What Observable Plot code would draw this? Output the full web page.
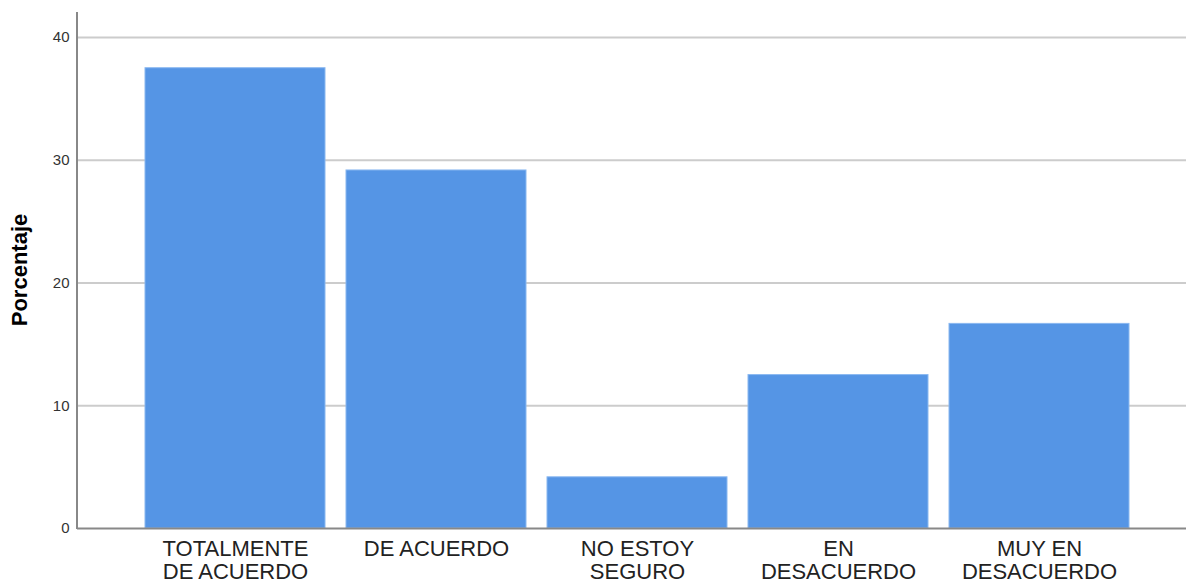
<!DOCTYPE html>
<html>
<head>
<meta charset="utf-8">
<script src="https://cdn.jsdelivr.net/npm/d3@7"></script>
<script src="https://cdn.jsdelivr.net/npm/@observablehq/plot@0.6"></script>
<style>
  html, body { margin: 0; padding: 0; background: #fff; }
  #chart { width: 1186px; height: 583px; overflow: hidden; }
</style>
</head>
<body>
<div id="chart"></div>
<script>
const categories = ["TOTALMENTE\nDE ACUERDO", "DE ACUERDO", "NO ESTOY\nSEGURO", "EN\nDESACUERDO", "MUY EN\nDESACUERDO"];
const percentages = [37.5, 29.17, 4.17, 12.5, 16.67];
const yTicks = [0, 10, 20, 30, 40];
const yLabel = "Porcentaje";

const data = categories.map((c, i) => ({cat: c, pct: percentages[i]}));

const chart = Plot.plot({
  width: 1186,
  height: 583,
  marginLeft: 77,
  marginRight: 0,
  marginTop: 12,
  marginBottom: 55,
  style: {fontFamily: "Liberation Sans, Arial, sans-serif", background: "#fff"},
  x: {domain: categories, range: [77, 1197], paddingInner: 0.106, paddingOuter: 0.335, label: null, axis: null},
  y: {domain: [0, 42.04], label: null, axis: null},
  marks: [
    Plot.ruleY(yTicks.filter(d => d > 0), {stroke: "#cccccc", strokeWidth: 2}),
    Plot.barY(data, {x: "cat", y: "pct", fill: "#5595e5", stroke: "#8ab8f0", strokeWidth: 1}),
    Plot.ruleY([0], {stroke: "#888888", strokeWidth: 2}),
    Plot.axisY({ticks: yTicks, tickSize: 0, tickPadding: 8, fontSize: 15, fill: "#333", label: null}),
    Plot.axisX({tickSize: 0, tickPadding: 11, fontSize: 22, fill: "#222", label: null, lineHeight: 1.05})
  ]
});

const svg = d3.select(chart);
svg.append("line")
  .attr("x1", 77).attr("x2", 77)
  .attr("y1", 12).attr("y2", 529)
  .attr("stroke", "#888").attr("stroke-width", 2);
svg.append("text")
  .attr("transform", "translate(27,270) rotate(-90)")
  .attr("text-anchor", "middle")
  .attr("font-family", "Liberation Sans, Arial, sans-serif")
  .attr("font-weight", "bold")
  .attr("font-size", 22)
  .attr("fill", "#000")
  .text(yLabel);

document.getElementById("chart").appendChild(chart);
</script>
</body>
</html>
